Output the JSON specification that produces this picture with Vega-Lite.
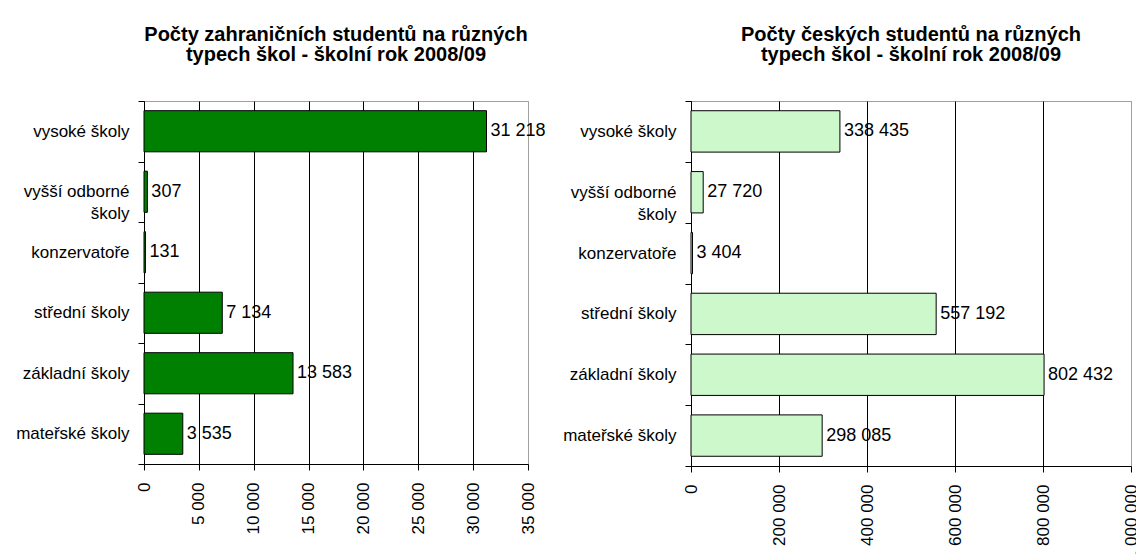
{
  "$schema": "https://vega.github.io/schema/vega-lite/v6.json",
  "background": "white",
  "padding": {"left": 5, "top": 24, "right": 0, "bottom": 0},
  "spacing": 163,
  "bounds": "flush",
  "config": {
    "locale": {"number": {"decimal": ",", "thousands": " ", "grouping": [3], "currency": ["", " Kč"]}},
    "view": {"stroke": "#a0a0a0", "strokeWidth": 1},
    "axis": {
      "domainColor": "black",
      "tickColor": "black",
      "labelColor": "black",
      "labelFont": "Liberation Sans",
      "labelFontSize": 17,
      "tickSize": 6
    },
    "title": {
      "font": "Liberation Sans",
      "fontSize": 20,
      "fontWeight": "bold",
      "lineHeight": 20,
      "offset": 27,
      "color": "black",
      "anchor": "middle"
    }
  },
  "datasets": {
    "zahr": [
      {"typ": "vysoké školy", "pocet": 31218},
      {"typ": "vyšší odborné školy", "pocet": 307},
      {"typ": "konzervatoře", "pocet": 131},
      {"typ": "střední školy", "pocet": 7134},
      {"typ": "základní školy", "pocet": 13583},
      {"typ": "mateřské školy", "pocet": 3535}
    ],
    "cz": [
      {"typ": "vysoké školy", "pocet": 338435},
      {"typ": "vyšší odborné školy", "pocet": 27720},
      {"typ": "konzervatoře", "pocet": 3404},
      {"typ": "střední školy", "pocet": 557192},
      {"typ": "základní školy", "pocet": 802432},
      {"typ": "mateřské školy", "pocet": 298085}
    ]
  },
  "hconcat": [
    {
      "width": 384,
      "height": 363,
      "data": {"name": "zahr"},
      "title": {"text": ["Počty zahraničních studentů na různých", "typech škol - školní rok 2008/09"]},
      "encoding": {
        "y": {
          "field": "typ",
          "type": "nominal",
          "sort": ["vysoké školy", "vyšší odborné školy", "konzervatoře", "střední školy", "základní školy", "mateřské školy"],
          "scale": {"paddingInner": 0, "paddingOuter": 0},
          "axis": {
            "title": null,
            "tickBand": "extent",
            "labelExpr": "datum.value == 'vyšší odborné školy' ? ['vyšší odborné', 'školy'] : datum.value",
            "labelLineHeight": 22,
            "labelPadding": 9,
            "minExtent": 138,
            "maxExtent": 138
          }
        },
        "x": {
          "field": "pocet",
          "type": "quantitative",
          "scale": {"domain": [0, 35000], "nice": false},
          "axis": {
            "title": null,
            "values": [0, 5000, 10000, 15000, 20000, 25000, 30000, 35000],
            "format": ",d",
            "labelAngle": -90,
            "labelPadding": 12,
            "grid": true,
            "gridColor": {"condition": {"test": "datum.value >= 35000", "value": "#a0a0a0"}, "value": "black"}
          }
        }
      },
      "layer": [
        {"mark": {"type": "bar", "height": {"band": 0.68}, "fill": "#008000", "stroke": "black", "strokeWidth": 1}},
        {
          "mark": {"type": "text", "align": "left", "baseline": "middle", "dx": 4, "font": "Liberation Sans", "fontSize": 18, "color": "black"},
          "encoding": {"text": {"field": "pocet", "type": "quantitative", "format": ",d"}}
        }
      ]
    },
    {
      "width": 440,
      "height": 365,
      "data": {"name": "cz"},
      "title": {"text": ["Počty českých studentů na  různých", "typech škol - školní rok 2008/09"]},
      "encoding": {
        "y": {
          "field": "typ",
          "type": "nominal",
          "sort": ["vysoké školy", "vyšší odborné školy", "konzervatoře", "střední školy", "základní školy", "mateřské školy"],
          "scale": {"paddingInner": 0, "paddingOuter": 0},
          "axis": {
            "title": null,
            "tickBand": "extent",
            "labelExpr": "datum.value == 'vyšší odborné školy' ? ['vyšší odborné', 'školy'] : datum.value",
            "labelLineHeight": 22,
            "labelPadding": 9,
            "minExtent": 138,
            "maxExtent": 138
          }
        },
        "x": {
          "field": "pocet",
          "type": "quantitative",
          "scale": {"domain": [0, 1000000], "nice": false},
          "axis": {
            "title": null,
            "values": [0, 200000, 400000, 600000, 800000, 1000000],
            "format": ",d",
            "labelAngle": -90,
            "labelPadding": 12,
            "grid": true,
            "gridColor": {"condition": {"test": "datum.value >= 1000000", "value": "#a0a0a0"}, "value": "black"}
          }
        }
      },
      "layer": [
        {"mark": {"type": "bar", "height": {"band": 0.68}, "fill": "#ccf8cc", "stroke": "black", "strokeWidth": 1}},
        {
          "mark": {"type": "text", "align": "left", "baseline": "middle", "dx": 4, "font": "Liberation Sans", "fontSize": 18, "color": "black"},
          "encoding": {"text": {"field": "pocet", "type": "quantitative", "format": ",d"}}
        }
      ]
    }
  ]
}
